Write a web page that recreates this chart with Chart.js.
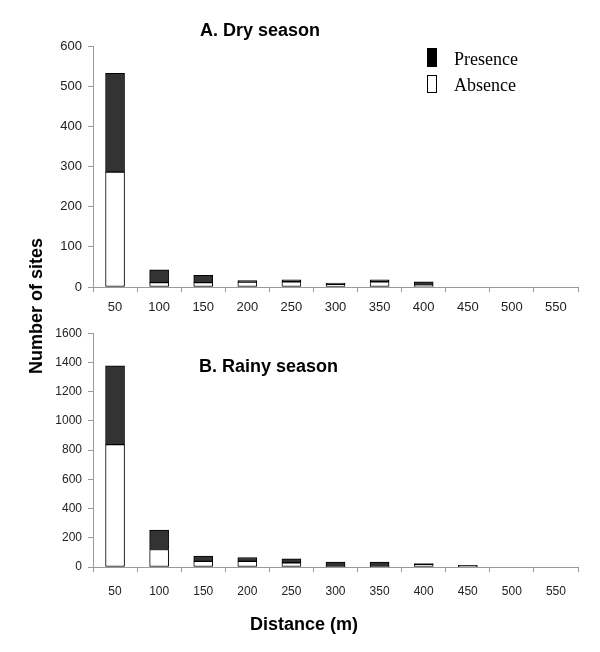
<!DOCTYPE html>
<html>
<head>
<meta charset="utf-8">
<script src="https://cdn.jsdelivr.net/npm/chart.js@4/dist/chart.umd.min.js"></script>
<style>
  body { margin:0; background:#fff; width:600px; height:652px; position:relative; overflow:hidden; font-family:"Liberation Sans", Arial, sans-serif; }
  canvas { position:absolute; left:0; }
  .ttl { position:absolute; font-weight:bold; font-size:18px; line-height:1; white-space:nowrap; color:#000; }
  .leg { position:absolute; font-family:"Liberation Serif", "Times New Roman", serif; font-size:18px; line-height:1; color:#000; }
  .sw { position:absolute; width:10px; box-sizing:border-box; }
</style>
</head>
<body>
<canvas id="dryChart" width="600" height="320" style="top:0"></canvas>
<canvas id="rainyChart" width="600" height="332" style="top:320px"></canvas>

<div class="ttl" style="left:200px;top:21px">A. Dry season</div>
<div class="ttl" style="left:199px;top:357px">B. Rainy season</div>
<div class="ttl" style="left:36px;top:306px;transform:translate(-50%,-50%) rotate(-90deg)">Number of sites</div>
<div class="ttl" style="left:250px;top:615px">Distance (m)</div>

<div class="sw" style="left:427px;top:48px;height:19px;background:#000"></div>
<div class="leg" style="left:454px;top:50px">Presence</div>
<div class="sw" style="left:427px;top:75px;height:18px;border:1px solid #000;background:#fff"></div>
<div class="leg" style="left:454px;top:76px">Absence</div>

<script>
// distance classes (m)
const distances = ['50','100','150','200','250','300','350','400','450','500','550'];

// A. dry season
const dryAbsence  = [286, 11, 11, 12, 13, 6, 13, 4, 0, 0, 0];
const dryPresence = [246, 32, 18,  4,  5, 4,  5, 9, 0, 0, 0];

// B. rainy season
const rainyAbsence  = [837, 120, 38, 38, 29,  3,  3, 18,  2, 0, 0];
const rainyPresence = [540, 132, 37, 27, 27, 31, 31,  5, 10, 0, 0];

const dryTicks = { max: 600, step: 100 };
const rainyTicks = { max: 1600, step: 200 };

const axisGrey = '#9a9a9a';
const tickFont = '"Liberation Sans", Arial, sans-serif';

function makeChart(id, absence, presence, yt, padTop, xHeight, fontSize, xPad){
  const ctx = document.getElementById(id).getContext('2d');
  return new Chart(ctx, {
    type: 'bar',
    data: {
      labels: distances,
      datasets: [
        { label: 'Absence', data: absence, backgroundColor: '#ffffff', borderColor: '#000', borderWidth: 1, borderSkipped: false, barThickness: 19 },
        { label: 'Presence', data: presence, backgroundColor: '#333333', borderColor: '#000', borderWidth: 1, borderSkipped: false, barThickness: 19 }
      ]
    },
    options: {
      responsive: false,
      animation: false,
      devicePixelRatio: 1,
      layout: { padding: { top: padTop, left: 0, right: 22, bottom: 0 } },
      plugins: { legend: { display: false }, tooltip: { enabled: false } },
      scales: {
        x: {
          stacked: true,
          grid: { offset: true, drawOnChartArea: false, drawTicks: true, tickLength: 5, color: axisGrey },
          border: { color: axisGrey, width: 1 },
          ticks: { color: '#222', padding: xPad, font: { family: tickFont, size: fontSize } },
          afterFit: s => { s.height = xHeight; }
        },
        y: {
          stacked: true,
          min: 0,
          max: yt.max,
          grid: { drawOnChartArea: false, drawTicks: true, tickLength: 5, color: axisGrey },
          border: { color: axisGrey, width: 1 },
          ticks: { stepSize: yt.step, color: '#222', padding: 6, font: { family: tickFont, size: fontSize }, callback: v => String(v) },
          afterFit: s => { s.width = 93; }
        }
      }
    }
  });
}

makeChart('dryChart', dryAbsence, dryPresence, dryTicks, 46, 33, 13, 8);
makeChart('rainyChart', rainyAbsence, rainyPresence, rainyTicks, 12, 85, 12, 12);
</script>
</body>
</html>
